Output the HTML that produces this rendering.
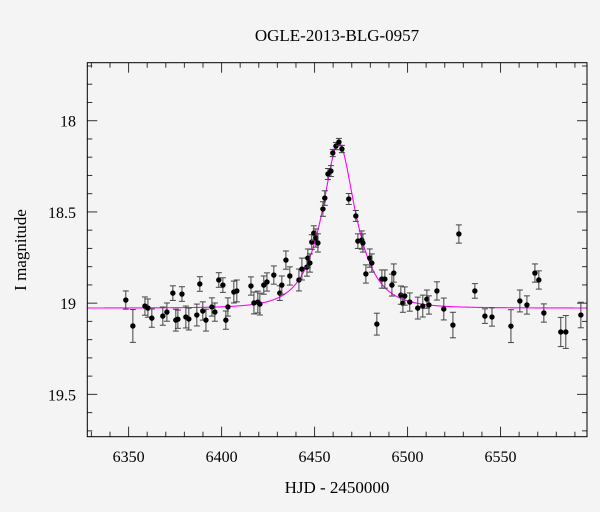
<!DOCTYPE html>
<html><head><meta charset="utf-8"><style>
html,body{margin:0;padding:0;background:#f4f4f4;}
svg{display:block;font-family:"Liberation Serif","DejaVu Serif",serif;}
</style></head><body>
<svg id="chart" width="600" height="512" viewBox="0 0 600 512" xmlns="http://www.w3.org/2000/svg">
<rect x="0" y="0" width="600" height="512" fill="#f4f4f4"/>
<text x="337" y="41" text-anchor="middle" font-size="17" fill="#000">OGLE-2013-BLG-0957</text>
<text x="337" y="493" text-anchor="middle" font-size="17" fill="#000">HJD - 2450000</text>
<text x="0" y="0" transform="translate(26,250) rotate(-90)" text-anchor="middle" font-size="17" fill="#000">I magnitude</text>
<g id="ticks"></g>
<path id="model" fill="none" stroke="#ff00ff" stroke-width="1.1"/>
<g id="pts"></g>
<rect x="87.3" y="62.7" width="499.7" height="374" fill="none" stroke="#000" stroke-width="1"/>
</svg>
<script>
const hjd = [6348.5,6352.3,6358.8,6360.4,6362.5,6368.4,6370.6,6373.8,6375.4,6376.5,6378.7,6380.8,6382.4,6386.7,6388.3,6389.9,6391.6,6394.8,6396.4,6398.5,6400.7,6402.3,6403.4,6406.6,6408.2,6415.8,6417.4,6419.5,6420.6,6422.7,6424.4,6428.1,6431.3,6432.4,6434.6,6436.7,6441.6,6443.2,6445.9,6446.4,6447.5,6448.5,6449.6,6450.7,6451.8,6454.5,6455.5,6457.2,6458.8,6459.8,6461.5,6463.1,6464.7,6468.4,6472.2,6473.3,6475.4,6476.0,6477.6,6479.7,6480.8,6483.5,6486.2,6487.8,6491.6,6492.6,6496.4,6497.5,6498.5,6501.2,6505.5,6508.2,6510.4,6511.5,6515.8,6519.5,6524.4,6527.6,6536.2,6541.6,6545.4,6555.6,6560.4,6564.2,6568.5,6570.6,6573.3,6582.4,6585.1,6593.2];
const mag = [18.983,19.125,19.016,19.027,19.082,19.071,19.049,18.945,19.093,19.088,18.950,19.076,19.087,19.065,18.895,19.043,19.093,19.021,19.049,18.873,18.901,19.093,19.021,18.939,18.933,18.906,18.999,18.994,19.005,18.901,18.884,18.846,18.945,18.901,18.764,18.851,18.873,18.813,18.802,18.753,18.780,18.665,18.616,18.643,18.670,18.484,18.424,18.292,18.276,18.177,18.139,18.117,18.155,18.429,18.522,18.660,18.654,18.670,18.840,18.753,18.780,19.115,18.868,18.868,18.901,18.835,18.956,19.000,18.961,18.994,19.027,19.016,18.978,19.010,18.933,19.032,19.120,18.621,18.933,19.071,19.076,19.126,18.988,19.010,18.835,18.873,19.054,19.158,19.158,19.065];
const err = [0.05,0.09,0.05,0.05,0.05,0.05,0.05,0.04,0.06,0.05,0.04,0.06,0.06,0.06,0.04,0.05,0.06,0.05,0.05,0.04,0.04,0.05,0.05,0.06,0.06,0.05,0.06,0.06,0.06,0.05,0.05,0.05,0.04,0.05,0.05,0.05,0.06,0.06,0.05,0.05,0.05,0.04,0.04,0.05,0.05,0.04,0.04,0.03,0.03,0.02,0.02,0.02,0.02,0.03,0.03,0.04,0.05,0.05,0.05,0.05,0.05,0.06,0.05,0.05,0.06,0.05,0.05,0.05,0.05,0.05,0.06,0.06,0.05,0.05,0.05,0.06,0.07,0.05,0.04,0.04,0.05,0.09,0.06,0.05,0.05,0.05,0.05,0.08,0.09,0.07];
const xTicks = [6350,6400,6450,6500,6550];
const yTicks = [18,18.5,19,19.5];
const modelT0 = 6463, modelU0 = 0.47, modelTE = 16, modelBase = 19.027;

const X0=87.3, X1=587, Y0=62.7, Y1=436.7;
const xMin=6327.8, xMax=6596.5, yMin=17.682, yMax=19.732;
function xs(t){return X0+(t-xMin)/(xMax-xMin)*(X1-X0);}
function ys(m){return Y0+(m-yMin)/(yMax-yMin)*(Y1-Y0);}
const NS="http://www.w3.org/2000/svg";
function mk(tag,attrs){const e=document.createElementNS(NS,tag);for(const k in attrs)e.setAttribute(k,attrs[k]);return e;}

// ticks
const tg=document.getElementById('ticks');
for(let t=6330;t<=6590;t+=10){
  const major=(t%50===0);const L=major?10:5;const x=xs(t);
  const a=mk('line',{x1:x,x2:x,y1:Y1,y2:Y1-L,stroke:'#333','stroke-width':1});
  
  
  tg.appendChild(a);
  const b=mk('line',{x1:x,x2:x,y1:Y0,y2:Y0+L,stroke:'#333','stroke-width':1});
  
  
  tg.appendChild(b);
}
for(let i=17;i<=19;i++){}
for(let k=177;k<=197;k++){
  const m=k/10;const major=(k%5===0);const L=major?10:5;const y=ys(m);
  const a=mk('line',{x1:X0,x2:X0+L,y1:y,y2:y,stroke:'#333','stroke-width':1});
  
  
  tg.appendChild(a);
  const b=mk('line',{x1:X1,x2:X1-L,y1:y,y2:y,stroke:'#333','stroke-width':1});
  
  
  tg.appendChild(b);
}
xTicks.forEach(t=>{
  const e=mk('text',{x:xs(t),y:462,'text-anchor':'middle','font-size':16,fill:'#000'});
  e.textContent=String(t);
  
  
  tg.appendChild(e);
});
yTicks.forEach(m=>{
  const e=mk('text',{x:76,y:ys(m)+6,'text-anchor':'end','font-size':16,fill:'#000'});
  e.textContent=String(m);
  
  
  tg.appendChild(e);
});

// model
function A(u){return (u*u+2)/(u*Math.sqrt(u*u+4));}
let d='';
for(let t=xMin;t<=xMax;t+=0.25){
  const tau=(t-modelT0)/modelTE;const u=Math.sqrt(modelU0*modelU0+tau*tau);
  const m=modelBase-2.5*Math.log10(A(u));
  d+=(d?'L':'M')+xs(t).toFixed(2)+','+ys(m).toFixed(2);
}
document.getElementById('model').setAttribute('d',d);

// points
const pg=document.getElementById('pts');
hjd.forEach((t,i)=>{
  const x=xs(t),y=ys(mag[i]),ya=ys(mag[i]-err[i]),yb=ys(mag[i]+err[i]);
  const g=mk('g',{});
  
  
  g.appendChild(mk('line',{x1:x,x2:x,y1:ya,y2:yb,stroke:'#444','stroke-width':1}));
  g.appendChild(mk('line',{x1:x-3,x2:x+3,y1:ya,y2:ya,stroke:'#444','stroke-width':1}));
  g.appendChild(mk('line',{x1:x-3,x2:x+3,y1:yb,y2:yb,stroke:'#444','stroke-width':1}));
  g.appendChild(mk('circle',{cx:x,cy:y,r:2.7,fill:'#000'}));
  pg.appendChild(g);
});
</script>
</body></html>
